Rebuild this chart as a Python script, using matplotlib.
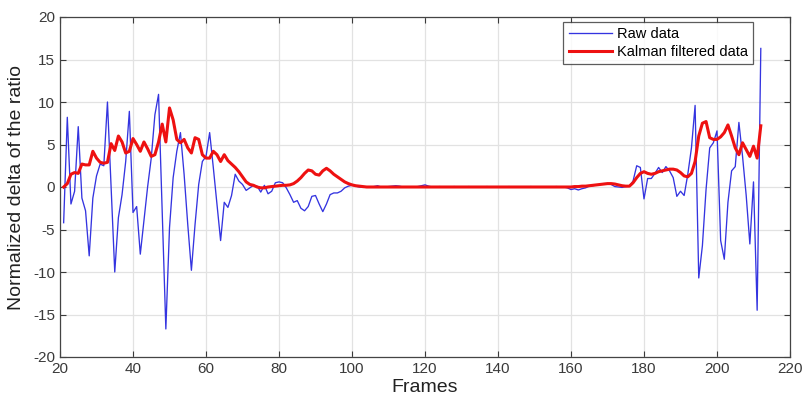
import matplotlib
matplotlib.use("Agg")
import matplotlib.pyplot as plt
import numpy as np

plt.rcParams['font.family'] = ['Liberation Sans', 'DejaVu Sans']
plt.rcParams['axes.unicode_minus'] = False

# frames 21..212
frames = np.arange(21, 213)

raw_data = [
    -4.2, 8.2, -2.0, -0.5, 7.1, -1.3, -2.8, -8.1, -1.3, 1.3,        # 21-30
    2.7, 2.5, 10.0, 0.0, -10.0, -3.6, -0.9, 3.0, 8.9, -3.0,         # 31-40
    -2.3, -7.9, -4.0, 0.0, 3.4, 8.5, 10.9, -3.0, -16.7, -4.8,       # 41-50
    1.1, 4.2, 6.4, 1.5, -4.4, -9.8, -4.4, 0.3, 3.0, 3.6,            # 51-60
    6.4, 2.3, -2.0, -6.3, -1.8, -2.4, -1.0, 1.5, 0.7, 0.3,          # 61-70
    -0.4, -0.1, 0.2, 0.1, -0.6, 0.2, -0.8, -0.5, 0.5, 0.6,          # 71-80
    0.5, -0.1, -0.9, -1.8, -1.6, -2.5, -2.8, -2.3, -1.1, -1.0,      # 81-90
    -2.0, -2.9, -2.0, -0.9, -0.7, -0.7, -0.5, -0.1, 0.1, 0.2,       # 91-100
    0.1, 0.0, -0.05, 0.0, 0.0, 0.05, 0.15, 0.0, 0.0, 0.05,          # 101-110
    0.1, 0.15, 0.1, 0.0, 0.0, 0.0, 0.0, 0.05, 0.15, 0.25,           # 111-120
    0.1, 0.0, 0.0, 0.05, 0.0, 0.0, 0.0, 0.05, 0.0, 0.0,             # 121-130
    0.0, 0.05, 0.0, 0.0, 0.0, 0.0, 0.05, 0.0, 0.0, 0.0,             # 131-140
    0.0, 0.0, 0.05, 0.0, 0.0, 0.0, 0.0, 0.0, 0.05, 0.0,             # 141-150
    0.0, 0.0, 0.0, 0.0, 0.0, 0.05, 0.0, 0.0, -0.1, -0.3,            # 151-160
    -0.2, -0.35, -0.2, -0.1, 0.1, 0.15, 0.25, 0.3, 0.4, 0.4,        # 161-170
    0.3, 0.05, 0.0, -0.05, 0.05, 0.1, 0.7, 2.5, 2.3, -1.4,          # 171-180
    1.0, 1.0, 1.6, 2.3, 1.7, 2.4, 1.9, 1.1, -1.1, -0.5,             # 181-190
    -1.0, 1.5, 4.6, 9.6, -10.7, -6.9, -0.3, 4.6, 5.2, 6.6,          # 191-200
    -6.3, -8.5, -1.8, 1.9, 2.4, 7.6, 3.6, -1.0, -6.7, 0.6,          # 201-210
    -14.5, 16.3,                                                    # 211-212
]

kalman_data = [
    0.0, 0.4, 1.5, 1.7, 1.6, 2.7, 2.6, 2.6, 4.2, 3.4,               # 21-30
    2.9, 2.8, 2.9, 5.1, 4.3, 6.0, 5.3, 4.0, 4.2, 5.7,               # 31-40
    5.0, 4.2, 5.3, 4.5, 3.6, 3.8, 5.3, 7.4, 5.3, 9.3,               # 41-50
    7.9, 5.6, 5.2, 5.6, 4.6, 4.0, 5.8, 5.6, 3.8, 3.4,               # 51-60
    3.4, 4.2, 3.8, 3.0, 3.8, 3.1, 2.7, 2.3, 1.8, 1.2,               # 61-70
    0.6, 0.3, 0.2, 0.0, -0.1, -0.1, 0.0, 0.05, 0.1, 0.15,           # 71-80
    0.2, 0.2, 0.25, 0.4, 0.7, 1.1, 1.6, 2.0, 1.9, 1.5,              # 81-90
    1.4, 1.9, 2.2, 1.9, 1.5, 1.2, 0.9, 0.6, 0.4, 0.25,              # 91-100
    0.15, 0.1, 0.05, 0.0, 0.0, 0.0, 0.0, 0.0, 0.0, 0.0,             # 101-110
    0.0, 0.0, 0.0, 0.0, 0.0, 0.0, 0.0, 0.0, 0.0, 0.0,               # 111-120
    0.0, 0.0, 0.0, 0.0, 0.0, 0.0, 0.0, 0.0, 0.0, 0.0,               # 121-130
    0.0, 0.0, 0.0, 0.0, 0.0, 0.0, 0.0, 0.0, 0.0, 0.0,               # 131-140
    0.0, 0.0, 0.0, 0.0, 0.0, 0.0, 0.0, 0.0, 0.0, 0.0,               # 141-150
    0.0, 0.0, 0.0, 0.0, 0.0, 0.0, 0.0, 0.0, 0.0, 0.0,               # 151-160
    0.05, 0.05, 0.1, 0.1, 0.15, 0.2, 0.25, 0.3, 0.35, 0.4,          # 161-170
    0.4, 0.35, 0.25, 0.15, 0.1, 0.1, 0.5, 1.1, 1.6, 1.8,            # 171-180
    1.6, 1.5, 1.6, 1.8, 1.9, 2.0, 2.1, 2.1, 2.0, 1.7,               # 181-190
    1.3, 1.2, 1.6, 3.0, 6.0, 7.5, 7.7, 5.8, 5.6, 5.6,               # 191-200
    5.9, 6.4, 7.3, 6.0, 4.6, 3.8, 5.2, 4.4, 3.6, 4.8,               # 201-210
    3.4, 7.2,                                                       # 211-212
]

xticks = [20, 40, 60, 80, 100, 120, 140, 160, 180, 200, 220]
yticks = [-20, -15, -10, -5, 0, 5, 10, 15, 20]

fig = plt.figure(figsize=(8.06, 3.99), dpi=100)
ax = fig.add_axes([60 / 806, 1 - 357 / 399, 730 / 806, 340 / 399])

ax.plot(frames, raw_data, color='#3434e0', lw=0.95, label='Raw data')
ax.plot(frames, kalman_data, color='#ee1111', lw=2.2, label='Kalman filtered data')

ax.set_xlim(20, 220)
ax.set_ylim(-20, 20)
ax.set_xticks(xticks)
ax.set_yticks(yticks)
ax.grid(True, color='#e2e2e2', lw=0.9)
ax.set_axisbelow(True)
ax.tick_params(direction='in', length=4, labelsize=11, colors='#3a3a3a',
               top=True, right=True)
for s in ax.spines.values():
    s.set_color('#444444')
    s.set_linewidth(0.9)

ax.set_xlabel('Frames', fontsize=14, color='#222222', labelpad=2)
ax.set_ylabel('Normalized delta of the ratio', fontsize=14, color='#222222', labelpad=6)

leg = ax.legend(loc='upper right', bbox_to_anchor=(0.949, 0.985), fontsize=10.5,
                frameon=True, fancybox=False, edgecolor='#333333',
                handlelength=3.0, handletextpad=0.3, borderpad=0.35,
                labelspacing=0.25, borderaxespad=0)
leg.get_frame().set_linewidth(0.9)

fig.savefig('out.png', dpi=100)
